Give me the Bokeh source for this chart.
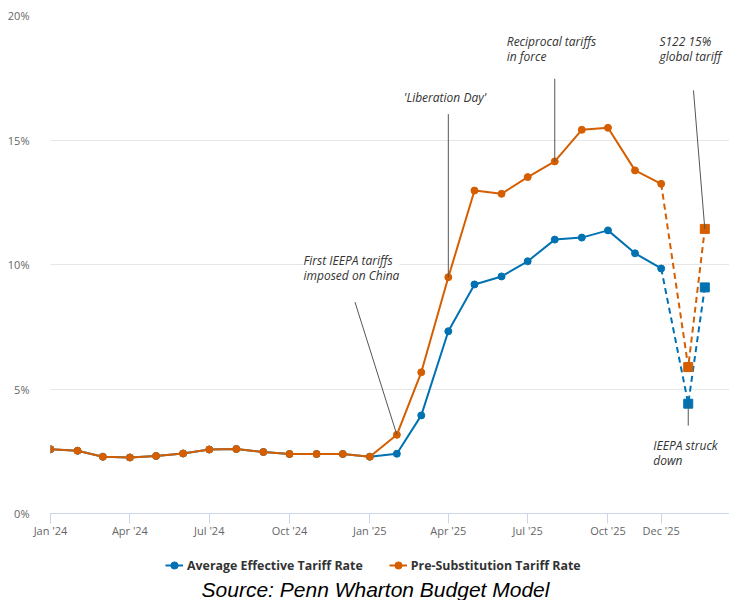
import pandas as pd
from bokeh.plotting import figure
from bokeh.layouts import column
from bokeh.models import (ColumnDataSource, FixedTicker, Legend, LegendItem,
                          Label, Range1d)
from bokeh.embed import file_html
from bokeh.resources import INLINE

# ---------------- data ----------------
month_dates = pd.date_range("2024-01-01", "2025-12-01", freq="MS")
effective_rate = [2.58, 2.52, 2.28, 2.25, 2.31, 2.41, 2.57, 2.59, 2.47, 2.39, 2.39, 2.39,
                  2.28, 2.40, 3.94, 7.32, 9.20, 9.52, 10.13, 11.00, 11.08, 11.37, 10.45, 9.84]
pre_sub_rate = [2.58, 2.52, 2.28, 2.25, 2.31, 2.41, 2.57, 2.59, 2.47, 2.39, 2.39, 2.39,
                2.28, 3.16, 5.67, 9.49, 12.97, 12.84, 13.51, 14.14, 15.41, 15.49, 13.78, 13.24]
scenario_dates = ["2026-01-01", "2026-01-20"]
scenario_effective = [4.41, 9.08]
scenario_pre_sub = [5.88, 11.43]

tick_dates = ["2024-01-01", "2024-04-01", "2024-07-01", "2024-10-01", "2025-01-01",
              "2025-04-01", "2025-07-01", "2025-10-01", "2025-12-01"]
tick_labels = ["Jan '24", "Apr '24", "Jul '24", "Oct '24", "Jan '25",
               "Apr '25", "Jul '25", "Oct '25", "Dec '25"]
y_ticks = [0, 5, 10, 15, 20]
y_tick_labels = ["0%", "5%", "10%", "15%", "20%"]

series_names = ["Average Effective Tariff Rate", "Pre-Substitution Tariff Rate"]
series_colors = ["#0072B2", "#D55E00"]
source_text = "Source: Penn Wharton Budget Model"

annotation_texts = ["First IEEPA tariffs\nimposed on China", "'Liberation Day'",
                    "Reciprocal tariffs\nin force", "S122 15%\nglobal tariff",
                    "IEEPA struck\ndown"]
annotation_label_pos = [("2024-10-17", 10.52), ("2025-02-09", 17.04), ("2025-06-07", 19.3),
                        ("2025-11-29", 19.3), ("2025-11-22", 3.08)]


def ms(d):
    return pd.Timestamp(d).value / 1e6


DAY = 86400000.0
x_start = ms("2024-01-01")
x_end = x_start + 778.3 * DAY

p = figure(width=729, height=540, output_backend="svg", toolbar_location=None,
           x_range=Range1d(x_start, x_end), y_range=Range1d(0, 20),
           min_border_left=50, min_border_right=0, min_border_top=15,
           min_border_bottom=27)
p.outline_line_color = None
p.background_fill_color = "white"
p.border_fill_color = "white"

# grid
p.xgrid.grid_line_color = None
p.ygrid.grid_line_color = "#e6e6e6"
p.ygrid.ticker = FixedTicker(ticks=y_ticks)

# x axis
xa = p.xaxis[0]
xa.ticker = FixedTicker(ticks=[ms(d) for d in tick_dates])
xa.major_label_overrides = {ms(d): lab for d, lab in zip(tick_dates, tick_labels)}
xa.axis_line_color = "#ccd6eb"
xa.major_tick_line_color = "#ccd6eb"
xa.major_tick_out = 10
xa.major_tick_in = 0
xa.minor_tick_line_color = None
xa.major_label_text_color = "#666666"
xa.major_label_text_font = "Open Sans"
xa.major_label_text_font_size = "11px"
xa.major_label_standoff = -1

# y axis
ya = p.yaxis[0]
ya.ticker = FixedTicker(ticks=y_ticks)
ya.major_label_overrides = {v: lab for v, lab in zip(y_ticks, y_tick_labels)}
ya.axis_line_color = None
ya.major_tick_line_color = None
ya.minor_tick_line_color = None
ya.major_label_text_color = "#666666"
ya.major_label_text_font = "Open Sans"
ya.major_label_text_font_size = "11px"
ya.major_label_standoff = 15

month_x = [ms(d) for d in month_dates]
scen_x = [ms(d) for d in scenario_dates]

for name, color, vals, scen in [(series_names[0], series_colors[0], effective_rate, scenario_effective),
                                (series_names[1], series_colors[1], pre_sub_rate, scenario_pre_sub)]:
    src = ColumnDataSource(dict(x=month_x, y=vals))
    p.line("x", "y", source=src, line_color=color, line_width=2)
    p.scatter("x", "y", source=src, marker="circle", size=7, fill_color=color, line_color=color)
    dsrc = ColumnDataSource(dict(x=[month_x[-1]] + scen_x, y=[vals[-1]] + scen))
    p.line("x", "y", source=dsrc, line_color=color, line_width=2, line_dash="6 4")
    ssrc = ColumnDataSource(dict(x=scen_x, y=scen))
    p.scatter("x", "y", source=ssrc, marker="square", size=9, fill_color=color, line_color=color)

# connectors
conn_x0 = [ms("2024-12-15"), month_x[15], month_x[19], ms("2026-01-07"), scen_x[0]]
conn_y0 = [8.49, 16.04, 17.46, 16.99, scenario_effective[0]]
conn_x1 = [month_x[13], month_x[15], month_x[19], scen_x[1], scen_x[0]]
conn_y1 = [pre_sub_rate[13], pre_sub_rate[15], pre_sub_rate[19], scenario_pre_sub[1], 3.53]
p.segment(x0=conn_x0, y0=conn_y0, x1=conn_x1, y1=conn_y1, line_color="#555555", line_width=1)

for i, (txt, (d, yv)) in enumerate(zip(annotation_texts, annotation_label_pos)):
    lab = Label(x=ms(d), y=yv, text=txt, text_font="Open Sans", text_font_style="italic",
                text_font_size="12px", text_color="#333333", text_align="left",
                text_baseline="top", text_line_height=0.88)
    if i == 0:
        lab.background_fill_color = "white"
    p.add_layout(lab)

# ---------------- legend + source strip (frame aligned with the chart frame) ----------------
q = figure(width=729, height=60, output_backend="svg", toolbar_location=None,
           x_range=Range1d(0, 679), y_range=Range1d(0, 60),
           min_border_left=50, min_border_right=0, min_border_top=0, min_border_bottom=0)
q.axis.visible = False
q.grid.visible = False
q.outline_line_color = None
q.background_fill_color = "white"
q.border_fill_color = "white"

items = []
for name, color in zip(series_names, series_colors):
    ln = q.line(x=[-10, -5], y=[-10, -10], line_color=color, line_width=2)
    dt = q.scatter(x=[-10], y=[-10], marker="circle", size=7, fill_color=color, line_color=color)
    items.append(LegendItem(label=name, renderers=[ln, dt]))

legend = Legend(items=items, orientation="horizontal", location=(115, 25),
                label_text_font="Open Sans", label_text_font_style="bold",
                label_text_font_size="12.4px", label_text_color="#333333",
                glyph_width=18, glyph_height=20, label_height=20, label_standoff=4, spacing=26,
                border_line_color=None, background_fill_alpha=0, padding=0, margin=0)
q.add_layout(legend)

source_label = Label(x=325, y=11, x_units="screen", y_units="screen", text=source_text,
                     text_font="Liberation Sans", text_font_style="italic",
                     text_font_size="21px", text_color="#000000", text_align="center",
                     text_baseline="middle")
q.add_layout(source_label)

layout = column(p, q, spacing=0)
open("out.html", "w").write(file_html(layout, INLINE))
